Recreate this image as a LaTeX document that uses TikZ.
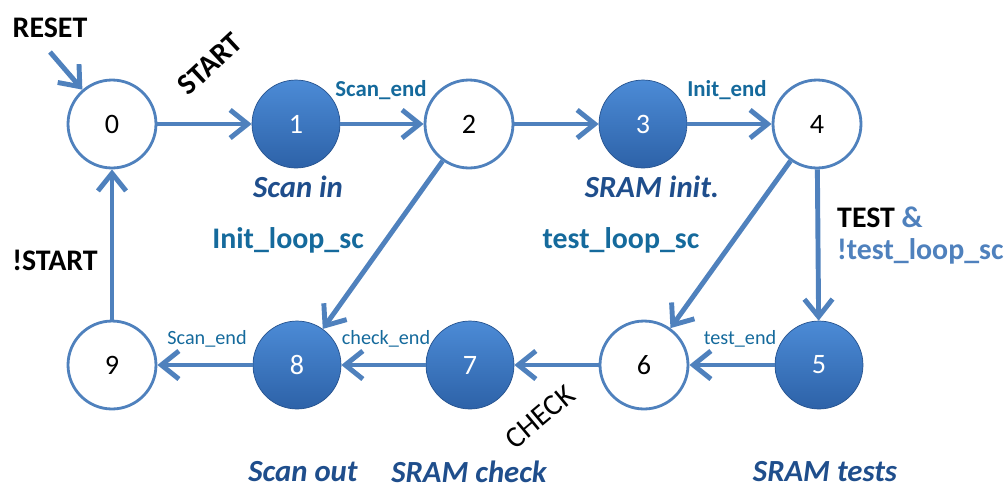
\documentclass[tikz,border=0pt]{standalone}
\usepackage{fontspec}
\setmainfont{Carlito}
\usetikzlibrary{arrows.meta}
\definecolor{lineblue}{HTML}{4F81BD}
\definecolor{fillhi}{HTML}{4C8BD6}
\definecolor{filllo}{HTML}{2D62A8}
\definecolor{condteal}{HTML}{156A9C}
\definecolor{phasenavy}{HTML}{1F4E8C}
\begin{document}
\begin{tikzpicture}[
        x=0.02cm, y=-0.02cm,
        state/.style={
            circle,
            minimum size=1.76cm,
            inner sep=0pt,
            font=\fontsize{16}{19}\selectfont
        },
        idle/.style={state, draw=lineblue, line width=1.6pt, fill=white},
        busy/.style={state, top color=fillhi, bottom color=filllo,
            draw=filllo!85!black, line width=0.4pt, text=white},
        trans/.style={draw=lineblue, line width=2.8pt,
            -{Straight Barb[length=10pt,width=16pt]}},
        bigcond/.style={font=\fontsize{17}{20}\selectfont\bfseries},
        cond/.style={font=\fontsize{17}{20}\selectfont\bfseries, text=condteal},
        smallcond/.style={font=\fontsize{13}{15}\selectfont\bfseries, text=condteal},
        thincond/.style={font=\fontsize{11.5}{13}\selectfont, text=condteal},
        phase/.style={font=\fontsize{17.5}{20}\selectfont\bfseries\itshape, text=phasenavy}
    ]
        \useasboundingbox (0,0) rectangle (1008,488);

        % Top row
        \node[idle] (n0) at (112,124) {0};
        \node[busy] (n1) at (296,124) {1};
        \node[idle] (n2) at (469,124) {2};
        \node[busy] (n3) at (643,124) {3};
        \node[idle] (n4) at (817,124) {4};

        % Bottom row
        \node[idle] (n9) at (112,365) {9};
        \node[busy] (n8) at (297,365) {8};
        \node[busy] (n7) at (470,365) {7};
        \node[idle] (n6) at (644,365) {6};
        \node[busy] (n5) at (819,365) {5};

        % Reset entry
        \node[bigcond] (reset) at (50,28) {RESET};
        \coordinate (rs) at (50,52);

        % Transitions
        \draw[trans] (rs) -- (n0);
        \draw[trans] (n0) -- (n1);
        \draw[trans] (n1) -- (n2);
        \draw[trans] (n2) -- (n3);
        \draw[trans] (n3) -- (n4);
        \draw[trans] (n4) -- (n5);
        \draw[trans] (n4) -- (n6);
        \draw[trans] (n2) -- (n8);
        \draw[trans] (n5) -- (n6);
        \draw[trans] (n6) -- (n7);
        \draw[trans] (n7) -- (n8);
        \draw[trans] (n8) -- (n9);
        \draw[trans] (n9) -- (n0);

        % Conditions
        \node[bigcond, rotate=43] (start) at (210,64) {START};
        \node[smallcond] (scanend) at (381,90) {Scan\_end};
        \node[smallcond] (initend) at (727,90) {Init\_end};
        \node[cond] (initloop) at (288,240) {Init\_loop\_sc};
        \node[cond] (testloop) at (621,240) {test\_loop\_sc};
        \node[bigcond, anchor=west] (test) at (831,217) {TEST \textcolor{lineblue}{\&}};
        \node[bigcond, anchor=west, text=lineblue] (notloop) at (831,251) {!test\_loop\_sc};
        \node[bigcond] (nostart) at (55,260) {!START};
        \node[thincond] (scanend2) at (207,339) {Scan\_end};
        \node[thincond] (checkend) at (386,339) {check\_end};
        \node[thincond] (testend) at (740,339) {test\_end};
        \node[font=\fontsize{17}{20}\selectfont, rotate=40] (check) at (540,417) {CHECK};

        % Phases
        \node[phase] (scanin) at (298,187) {Scan in};
        \node[phase] (sraminit) at (652,187) {SRAM init.};
        \node[phase] (scanout) at (303,472) {Scan out};
        \node[phase] (sramcheck) at (469,472) {SRAM check};
        \node[phase] (sramtests) at (825,472) {SRAM tests};
    \end{tikzpicture}
\end{document}
